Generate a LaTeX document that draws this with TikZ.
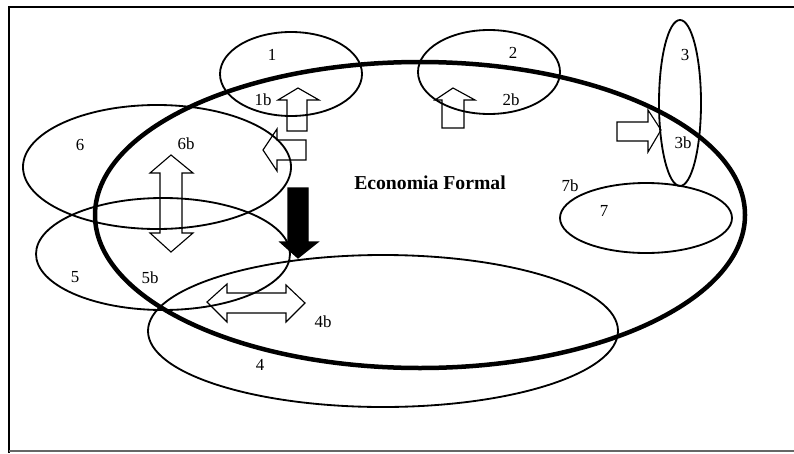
\documentclass[tikz,border=0pt]{standalone}
\usepackage{fontspec}
\setmainfont{Liberation Serif}
\usetikzlibrary{calc}

\begin{document}
\begin{tikzpicture}[
    x=0.025cm, y=-0.025cm,
    font=\fontsize{12}{14}\selectfont,
    zone/.style={draw=black, line width=1.3pt},
    formal/.style={draw=black, line width=3.2pt},
    hollow/.style={draw=black, line width=0.8pt, line join=miter},
    solid/.style={draw=black, fill=black, line width=0.8pt},
    lbl/.style={inner sep=1pt}
]
    % page and frame
    \useasboundingbox (0,0) rectangle (794,453);
    \draw[line width=1.4pt] (794,7) -- (9,7) -- (9,453);
    \draw[line width=1pt, black!60] (9,451) -- (794,451);

    % small zones
    \draw[zone] (291,74) ellipse [x radius=71, y radius=42];
    \draw[zone] (489,72) ellipse [x radius=71, y radius=42];
    \draw[zone] (680,103) ellipse [x radius=21, y radius=83];
    \draw[zone] (646,218) ellipse [x radius=86, y radius=35];
    \draw[zone] (157,167) ellipse [x radius=134, y radius=62];
    \draw[zone] (163,254) ellipse [x radius=127, y radius=56];
    \draw[zone] (383,331) ellipse [x radius=235, y radius=76];

    % formal economy
    \draw[formal] (420,215) ellipse [x radius=325, y radius=153];

    % arrows
    \draw[hollow] (287,131) -- (287,100) -- (278,100) -- (298,88) -- (319,100) -- (307,100) -- (307,131) -- cycle;
    \draw[hollow] (442,128) -- (442,100) -- (435,100) -- (453,88) -- (475,100) -- (464,100) -- (464,128) -- cycle;
    \draw[hollow] (306,140) -- (277,140) -- (277,129) -- (263,150) -- (277,171) -- (277,160) -- (306,160) -- cycle;
    \draw[hollow] (617,122) -- (648,122) -- (648,110) -- (661,130) -- (648,152) -- (648,141) -- (617,141) -- cycle;
    \draw[hollow] (171,155) -- (193,173) -- (182,173) -- (182,233) -- (193,233) -- (171,252)
        -- (150,233) -- (160,233) -- (160,173) -- (150,173) -- cycle;
    \draw[hollow] (207,302) -- (227,284) -- (227,293) -- (286,293) -- (286,285) -- (305,303)
        -- (286,322) -- (286,313) -- (227,313) -- (227,322) -- cycle;
    \draw[solid] (288,188) -- (308,188) -- (308,242) -- (318,242) -- (298,258) -- (280,242) -- (288,242) -- cycle;

    % labels
    \node[lbl] (l1) at (272,55) {1};
    \node[lbl] (l1b) at (263,100) {1b};
    \node[lbl] (l2) at (513,53) {2};
    \node[lbl] (l2b) at (511,100) {2b};
    \node[lbl] (l3) at (685,55) {3};
    \node[lbl] (l3b) at (683,143) {3b};
    \node[lbl] (l6) at (80,145) {6};
    \node[lbl] (l6b) at (186,144) {6b};
    \node[lbl, font=\fontsize{14}{16}\selectfont\bfseries] (formal) at (430,183) {Economia Formal};
    \node[lbl] (l7b) at (570,186) {7b};
    \node[lbl] (l7) at (604,211) {7};
    \node[lbl] (l5) at (75,277) {5};
    \node[lbl] (l5b) at (150,278) {5b};
    \node[lbl] (l4b) at (323,322) {4b};
    \node[lbl] (l4) at (260,365) {4};
\end{tikzpicture}
\end{document}
